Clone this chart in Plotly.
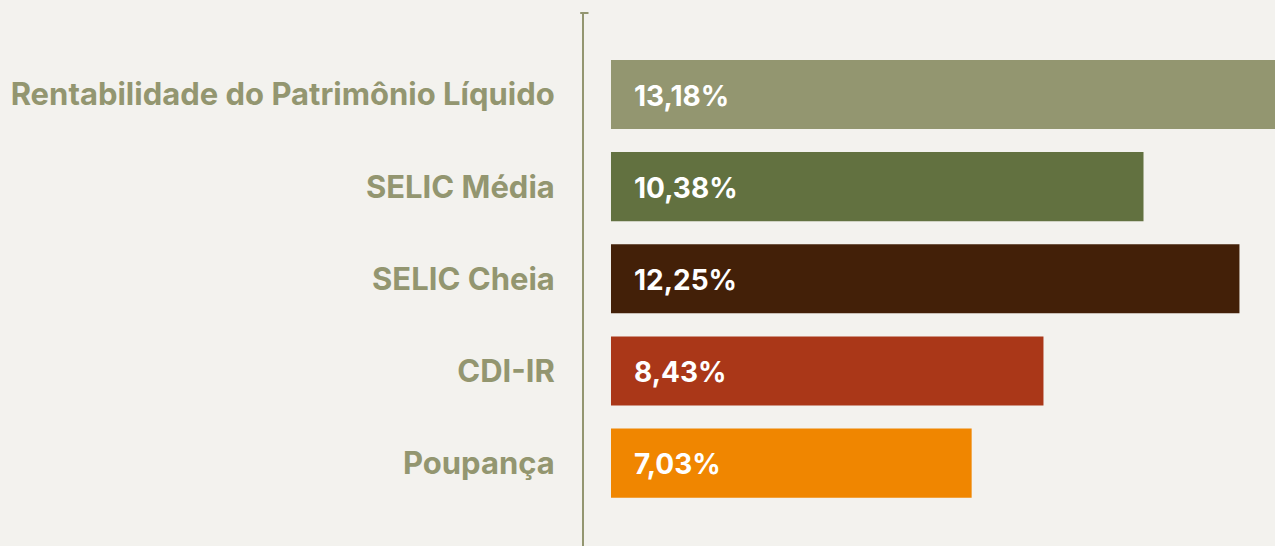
import plotly.graph_objects as go

categories = ["Rentabilidade do Patrimônio Líquido", "SELIC Média", "SELIC Cheia", "CDI-IR", "Poupança"]
values = [13.18, 10.38, 12.25, 8.43, 7.03]
value_labels = ["13,18%", "10,38%", "12,25%", "8,43%", "7,03%"]
colors = ["#939670", "#627140", "#432008", "#aa3718", "#f08600"]

BG = "#f3f2ee"
OLIVE = "#939670"
FONT = "Inter"

fig = go.Figure()
fig.add_trace(go.Bar(
    x=values, y=categories, orientation="h",
    marker=dict(color=colors, line=dict(width=0)),
    width=0.75, hoverinfo="skip",
))

for cat, lab in zip(categories, value_labels):
    fig.add_annotation(
        x=0, y=cat, text=f"<b>{lab}</b>", showarrow=False,
        xanchor="left", yanchor="middle", xshift=21, yshift=-1,
        font=dict(family=FONT, size=28, color="white"),
    )

# small cap tick at top of axis line
fig.add_shape(type="line", xref="paper", yref="paper", x0=-0.0055, x1=0.0065, y0=1, y1=1,
              line=dict(color=OLIVE, width=2))

fig.update_layout(
    width=1275, height=546,
    paper_bgcolor=BG, plot_bgcolor=BG,
    margin=dict(l=584, r=0, t=13, b=0),
    showlegend=False,
    xaxis=dict(range=[-0.526, 12.943], visible=False, fixedrange=True),
    yaxis=dict(
        range=[4.9, -0.885], showline=True, linecolor=OLIVE, linewidth=2,
        showgrid=False, zeroline=False, ticks="", ticklabelstandoff=21,
        tickfont=dict(family=FONT, size=31, color=OLIVE, weight="bold"),
        fixedrange=True,
    ),
)

fig.write_html(
    "out.html",
    config={"displayModeBar": False},
    post_script="document.body.style.margin='0';document.body.style.background='#f3f2ee';",
)
